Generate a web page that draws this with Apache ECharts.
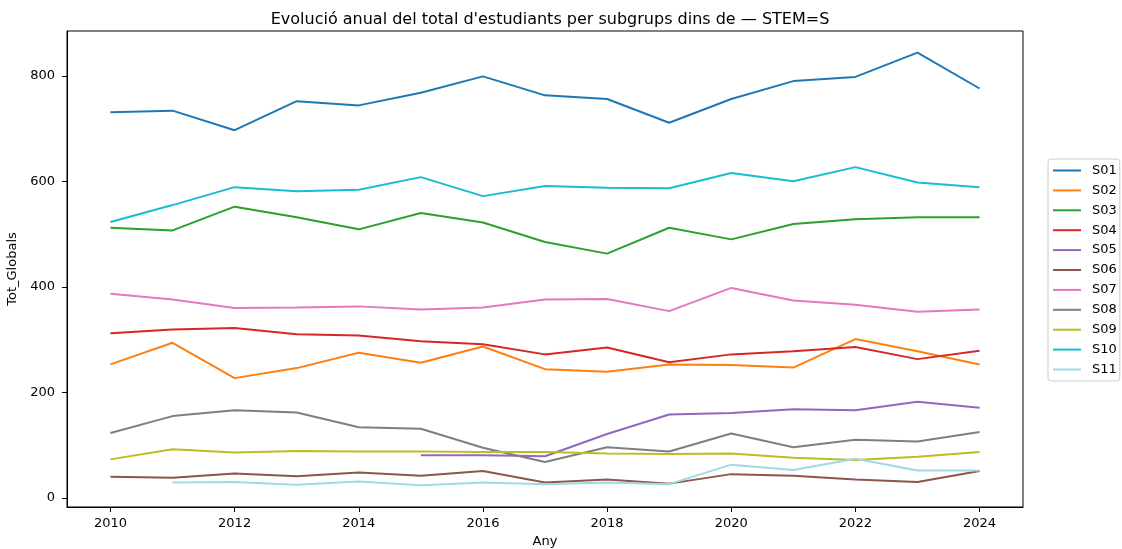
<!DOCTYPE html>
<html>
<head>
<meta charset="utf-8">
<script src="https://cdn.jsdelivr.net/npm/echarts@6/dist/echarts.min.js"></script>
<style>
html,body{margin:0;padding:0;background:#fff;}
#chart{width:1122px;height:549px;}
</style>
</head>
<body>
<div id="chart"></div>
<script>
const years = [2010,2011,2012,2013,2014,2015,2016,2017,2018,2019,2020,2021,2022,2023,2024];
const xTicks = [2010,2012,2014,2016,2018,2020,2022,2024];
const yTicks = [0,200,400,600,800];
const S01 = [731,734,697,752,744,768,799,763,756,711,756,790,798,844,776];
const S02 = [253,294,227,246,275,256,287,244,239,253,252,247,301,278,253];
const S03 = [512,507,552,532,509,540,522,485,463,512,490,519,528,532,532];
const S04 = [312,319,322,310,308,297,291,272,285,257,272,278,286,263,279];
const S05 = [null,null,null,null,null,81,81,79,121,158,161,168,166,182,171];
const S06 = [40,38,46,41,48,42,51,29,35,27,45,42,35,30,51];
const S07 = [387,376,360,361,363,357,361,376,377,354,398,374,366,353,357];
const S08 = [123,155,166,162,134,131,95,68,96,88,122,96,110,107,125];
const S09 = [73,92,86,89,88,88,87,87,84,83,84,76,72,78,87];
const S10 = [523,555,589,581,584,608,572,591,588,587,616,600,627,598,589];
const S11 = [null,29,30,25,31,24,29,26,29,26,63,53,74,52,52];

const seriesNames = ['S01','S02','S03','S04','S05','S06','S07','S08','S09','S10','S11'];
const seriesValues = [S01,S02,S03,S04,S05,S06,S07,S08,S09,S10,S11];
const colors = ['#1f77b4','#ff7f0e','#2ca02c','#d62728','#9467bd','#8c564b','#e377c2','#7f7f7f','#bcbd22','#17becf','#9edae5'];

const font = 'DejaVu Sans';
const chart = echarts.init(document.getElementById('chart'), null, {renderer:'canvas'});

const series = seriesNames.map((name, i) => ({
  name: name,
  type: 'line',
  symbol: 'none',
  showSymbol: false,
  animation: false,
  color: colors[i],
  lineStyle: {width: 2, color: colors[i]},
  data: years.map((y, j) => seriesValues[i][j] == null ? null : [y, seriesValues[i][j]]).filter(d => d !== null)
}));

chart.setOption({
  animation: false,
  backgroundColor: '#fff',
  color: colors,
  title: {
    text: "Evolució anual del total d'estudiants per subgrups dins de — STEM=S",
    left: 545, top: 7, textAlign: 'center',
    textStyle: {fontFamily: font, fontSize: 16, fontWeight: 'normal', color: '#000'}
  },
  grid: {left: 67, right: 99, top: 31, bottom: 42, show: true, borderColor: '#000', borderWidth: 1,
         backgroundColor: 'transparent', containLabel: false, outerBoundsMode: 'none'},
  legend: {
    orient: 'vertical',
    left: 1048, top: 159,
    data: seriesNames,
    itemWidth: 28, itemHeight: 14, itemGap: 6.9,
    padding: [5, 3, 5, 4],
    borderColor: '#cccccc', borderWidth: 1, borderRadius: 3,
    itemStyle: {opacity: 0},
    textStyle: {fontFamily: font, fontSize: 13, color: '#000', padding: [0,0,0,6]}
  },
  xAxis: {
    type: 'value',
    min: 2009.3, max: 2024.7,
    name: 'Any', nameLocation: 'middle', nameGap: 27,
    nameTextStyle: {fontFamily: font, fontSize: 13, color: '#000'},
    axisLine: {show: true, onZero: false, lineStyle: {color: '#000', width: 1}},
    axisTick: {show: true, length: 5, lineStyle: {color: '#000'}, customValues: xTicks},
    axisLabel: {fontFamily: font, fontSize: 13, color: '#000', margin: 10, customValues: xTicks, formatter: v => String(v)},
    splitLine: {show: false}
  },
  yAxis: {
    type: 'value',
    min: -17.3, max: 885,
    name: 'Tot_Globals', nameLocation: 'middle', nameGap: 39, nameRotate: 90,
    nameTextStyle: {fontFamily: font, fontSize: 13, color: '#000'},
    axisLine: {show: true, onZero: false, lineStyle: {color: '#000', width: 1}},
    axisTick: {show: true, length: 5, lineStyle: {color: '#000'}, customValues: yTicks},
    axisLabel: {fontFamily: font, fontSize: 13, color: '#000', margin: 12, customValues: yTicks},
    splitLine: {show: false}
  },
  series: series
});
</script>
</body>
</html>
